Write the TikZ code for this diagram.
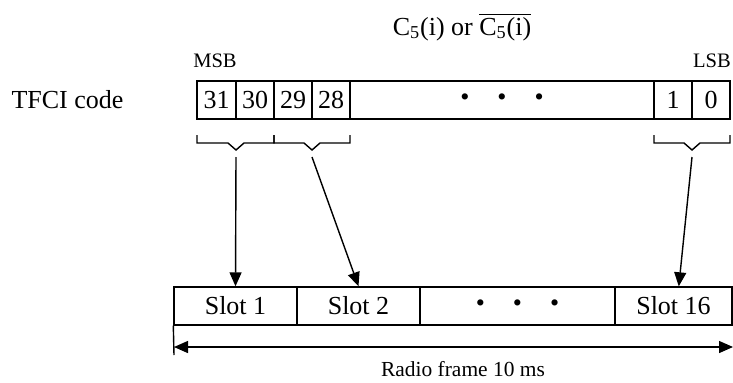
\documentclass[tikz,border=0pt]{standalone}
\usepackage{fontspec}
\setmainfont{Liberation Serif}
\usetikzlibrary{arrows.meta}

\begin{document}
\begin{tikzpicture}[
  x=0.02cm, y=-0.02cm,
  line width=0.8pt,
  every node/.style={inner sep=0pt,font=\fontsize{14.8}{17}\selectfont},
  bitbox/.style={rectangle,draw,minimum height=0.76cm,minimum width=0.76cm},
  slotbox/.style={rectangle,draw,minimum height=0.76cm,minimum width=2.46cm},
  small/.style={font=\fontsize{11.7}{14}\selectfont},
  arr/.style={-{Triangle[length=0.28cm,width=0.24cm]}}
]
  \useasboundingbox (0,0) rectangle (733,382);

  % labels
  \node (title) at (462,27) {C\textsubscript{5}(i) or $\overline{\hbox{C\textsubscript{5}(i)}}$};
  \node[small] (msb) at (215,61) {MSB};
  \node[small] (lsb) at (712,61) {LSB};
  \node (tfci) at (67.5,100) {TFCI code};

  % TFCI code word
  \node[bitbox,minimum width=0.78cm] (b31) at (216.5,100) {31};
  \node[bitbox] (b30) at (255,100) {30};
  \node[bitbox] (b29) at (293,100) {29};
  \node[bitbox] (b28) at (331,100) {28};
  \node[bitbox,minimum width=6.08cm] (bmid) at (502,100)
    {\textbullet\hspace{0.56cm}\textbullet\hspace{0.56cm}\textbullet};
  \node[bitbox] (b1) at (673,100) {1};
  \node[bitbox] (b0) at (711,100) {0};

  % brackets
  \draw (197,135) |- (228,143) -- (236,150) -- (244,143) -| (274,135);
  \draw (274,135) |- (304,143) -- (312,150) -- (320,143) -| (350,135);
  \draw (654,135) |- (684,143) -- (692,150) -- (700,143) -| (730,135);
  \coordinate (c1) at (236,157);
  \coordinate (c2) at (312,157);
  \coordinate (c3) at (692,157);

  % radio frame
  \node[slotbox] (slot1) at (235.5,306) {Slot 1};
  \node[slotbox] (slot2) at (358.5,306) {Slot 2};
  \node[slotbox,minimum width=3.9cm] (smid) at (517.5,306)
    {\textbullet\hspace{0.56cm}\textbullet\hspace{0.56cm}\textbullet};
  \node[slotbox,minimum width=2.34cm] (slot16) at (673.5,306) {Slot 16};

  \draw[arr] (c1) -- (slot1.north);
  \draw[arr] (c2) -- (slot2.north);
  \draw[arr] (c3) -- ([xshift=3pt]slot16.north);

  \coordinate (tick) at (174,355);
  \coordinate (fl) at (174,347);
  \coordinate (fr) at (733,347);
  \draw (slot1.south west) -- (tick);
  \draw[{Triangle[length=0.28cm,width=0.24cm]}-{Triangle[length=0.28cm,width=0.24cm]}] (fl) -- (fr);
  \node[font=\fontsize{12.2}{14}\selectfont] (frame) at (463,369) {Radio frame 10 ms};
\end{tikzpicture}
\end{document}
